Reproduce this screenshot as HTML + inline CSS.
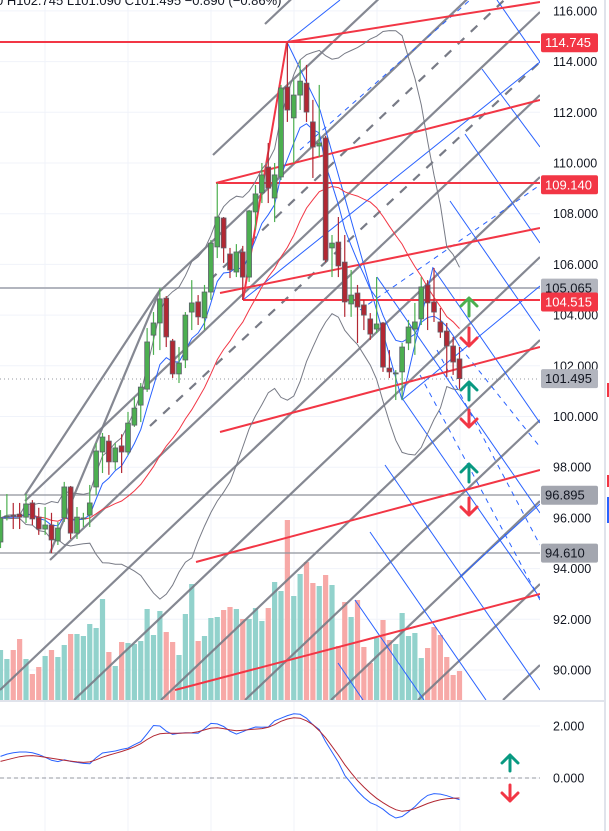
<!DOCTYPE html>
<html><head><meta charset="utf-8"><style>
html,body{margin:0;padding:0;background:#fff;}
svg{display:block;font-family:"Liberation Sans",sans-serif;}
</style></head><body>
<svg id="chart" width="609" height="831" viewBox="0 0 609 831" xmlns="http://www.w3.org/2000/svg">
<defs><clipPath id="plotClip"><rect x="0" y="0" width="540" height="700"/></clipPath>
<clipPath id="macdClip"><rect x="0" y="702" width="540" height="129"/></clipPath></defs>
<rect width="609" height="831" fill="#ffffff"/>
<g id="grid" stroke="#f0f3fa" stroke-width="1"></g>
<g id="volumes" clip-path="url(#plotClip)"></g>
<g id="drawings" clip-path="url(#plotClip)" fill="none">
  <line x1="0" y1="288" x2="540" y2="288" stroke="#b2b5be" stroke-width="2"/>
  <line x1="0" y1="495" x2="540" y2="495" stroke="#8f929b" stroke-width="1.3"/>
  <line x1="0" y1="553" x2="540" y2="553" stroke="#8f929b" stroke-width="1.3"/>
  <g stroke="#787b86" stroke-width="2.2" stroke-opacity="0.9">
    <line x1="160" y1="291" x2="540" y2="-70"/>
    <line x1="25" y1="501" x2="540" y2="12"/>
    <line x1="50" y1="560" x2="540" y2="95"/>
    <line x1="0" y1="690" x2="540" y2="177"/>
    <line x1="74" y1="700" x2="540" y2="257"/>
    <line x1="161" y1="700" x2="540" y2="340"/>
    <line x1="245" y1="700" x2="540" y2="420"/>
    <line x1="331" y1="700" x2="540" y2="501"/>
    <line x1="418" y1="700" x2="540" y2="584"/>
    <line x1="503" y1="700" x2="540" y2="665"/>
    <line x1="213" y1="155" x2="540" y2="-153"/>
    <line x1="265" y1="24" x2="540" y2="-237"/>
    <line x1="50" y1="553" x2="160" y2="290"/>
    <line x1="25" y1="495" x2="160" y2="290"/>
  </g>
  <g stroke="#787b86" stroke-width="2.2" stroke-dasharray="9,9">
    <line x1="150" y1="426" x2="540" y2="62"/>
    <line x1="210" y1="280" x2="540" y2="-34"/>
  </g>
  <g stroke="#2962ff" stroke-width="1">
    <line x1="497" y1="0" x2="540" y2="62"/>
    <line x1="482" y1="69" x2="540" y2="147"/>
    <line x1="465" y1="134" x2="540" y2="243"/>
    <line x1="450" y1="201" x2="540" y2="331"/>
    <line x1="433" y1="268" x2="540" y2="423"/>
    <line x1="377" y1="277" x2="540" y2="513"/>
    <line x1="402" y1="398" x2="540" y2="598"/>
    <line x1="385" y1="465" x2="540" y2="690"/>
    <line x1="370" y1="532" x2="486" y2="700"/>
    <line x1="355" y1="600" x2="424" y2="700"/>
    <line x1="338" y1="663" x2="363" y2="700"/>
    <polyline points="287,42 320,110 402,400 433,267"/>
    <line x1="402" y1="400" x2="540" y2="286"/>
    <line x1="243" y1="300" x2="540" y2="62"/>
    <line x1="460" y1="577" x2="540" y2="504"/>
    <line x1="287" y1="42" x2="340" y2="0"/>
  </g>
  <g stroke="#2962ff" stroke-width="1" stroke-dasharray="5,5">
    <line x1="300" y1="150" x2="470" y2="0"/>
    <line x1="360" y1="310" x2="540" y2="185"/>
    <line x1="460" y1="347" x2="540" y2="447"/>
    <line x1="437" y1="350" x2="540" y2="545"/>
    <line x1="420" y1="375" x2="540" y2="600"/>
  </g>
  <g stroke="#f23645" stroke-width="2">
    <line x1="287" y1="42" x2="540" y2="2"/>
    <line x1="216" y1="183" x2="540" y2="100"/>
    <line x1="220" y1="293" x2="540" y2="228"/>
    <line x1="220" y1="432" x2="540" y2="347"/>
    <line x1="196" y1="562" x2="540" y2="470"/>
    <line x1="175" y1="690" x2="540" y2="594"/>
    <line x1="243" y1="300" x2="287" y2="42"/>
    <line x1="0" y1="42" x2="540" y2="42"/>
    <line x1="216" y1="183" x2="540" y2="183"/>
    <line x1="243" y1="300" x2="540" y2="300"/>
  </g>
  <line x1="0" y1="379" x2="540" y2="379" stroke="#9598a1" stroke-width="1" stroke-dasharray="1,3"/>
</g>
<g id="indicators" clip-path="url(#plotClip)" fill="none"></g>
<g id="candles"></g>
<g id="signals" stroke-width="3" fill="none" stroke-linecap="round" stroke-linejoin="round">
  <g stroke="#4caf50"><path d="M469 316 V299 M461 306 L469 298 L477 306"/></g>
  <g stroke="#f23645"><path d="M469 328 V346 M461 338 L469 346 L477 338"/></g>
  <g stroke="#089981"><path d="M469 400 V383 M461 390 L469 382 L477 390"/></g>
  <g stroke="#f23645"><path d="M469 410 V427 M461 419 L469 427 L477 419"/></g>
  <g stroke="#089981"><path d="M469 482 V465 M461 472 L469 464 L477 472"/></g>
  <g stroke="#f23645"><path d="M469 498 V515 M461 507 L469 515 L477 507"/></g>
  <g stroke="#089981"><path d="M510 771 V755 M502 763 L510 755 L518 763"/></g>
  <g stroke="#f23645"><path d="M510 785 V801 M502 793 L510 801 L518 793"/></g>
</g>
<line x1="0" y1="701" x2="604" y2="701" stroke="#e0e3eb" stroke-width="2"/>
<g id="macd" clip-path="url(#macdClip)" fill="none"></g>
<g id="axis" font-size="12.5" fill="#131722"></g>
<line x1="605" y1="0" x2="605" y2="831" stroke="#e0e3eb" stroke-width="2"/>
<rect x="607" y="383" width="2" height="14" fill="#f23645"/>
<rect x="607" y="475" width="2" height="12" fill="#f23645"/>
<rect x="607" y="497" width="2" height="26" fill="#2962ff"/>
<text x="-4" y="5" font-size="13" fill="#131722">0 H102.745 L101.090 C101.495 −0.890 (−0.86%)</text>
</svg>
<script>
const opens=[95.05,96.05,96.1,96.15,96.03,96.59,96.03,95.56,95.72,95.09,96.0,97.22,95.4,95.98,96.11,97.22,98.6,99.03,98.21,98.84,98.6,99.66,100.45,101.08,103.21,103.69,104.67,102.98,101.68,102.23,104.12,104.52,103.89,104.91,106.69,107.83,106.41,105.7,106.49,105.5,108.07,108.82,109.84,108.62,109.45,113.0,111.78,112.68,113.15,111.62,110.67,110.99,106.65,106.88,106.09,104.44,104.87,104.4,103.85,103.45,103.69,101.91,101.68,101.76,102.9,103.45,103.85,105.19,104.52,103.73,103.37,102.78,102.27];
const highs=[96.31,96.94,96.59,96.59,96.94,96.7,96.4,96.43,96.2,95.84,97.42,97.26,96.43,96.2,97.3,98.95,99.35,99.27,98.95,99.3,100.18,100.77,101.32,103.49,104.12,105.07,104.75,103.06,102.74,104.12,105.38,104.79,105.19,106.96,109.21,107.87,106.65,106.8,106.73,108.15,109.13,110.0,110.79,110.0,113.08,114.745,113.27,114.06,113.87,112.49,113.08,111.07,107.16,107.87,107.16,105.78,105.19,104.6,104.08,105.5,103.73,102.62,101.83,102.9,103.81,104.48,105.5,105.38,105.86,104.28,103.69,103.14,102.745];
const lows=[94.81,95.9,95.56,95.56,95.8,95.72,95.33,95.33,94.61,94.93,95.84,95.17,95.17,95.64,95.64,96.9,97.77,97.7,97.9,97.77,98.48,99.59,99.78,100.97,102.43,102.62,102.74,101.52,101.32,101.91,103.41,103.61,103.41,104.6,106.25,106.06,105.46,105.5,104.6,105.31,107.36,108.42,108.42,107.67,109.33,111.62,110.0,112.09,111.62,109.41,110.24,106.09,105.5,105.5,103.93,103.93,102.9,103.41,103.02,103.29,101.76,101.52,100.65,100.65,102.62,102.43,103.61,103.41,103.73,103.1,101.56,101.64,101.09];
const closes=[96.0,96.07,96.08,96.03,96.55,95.96,95.56,95.72,95.13,95.6,97.22,95.4,96.03,96.0,96.59,98.64,99.19,98.21,98.76,98.6,99.74,100.33,101.16,102.94,103.69,104.64,103.14,101.68,102.11,104.0,104.48,103.93,104.91,106.84,107.87,106.65,105.78,106.49,105.5,108.11,108.78,109.53,109.01,109.53,112.96,112.09,112.68,113.23,112.01,110.63,110.79,106.17,106.84,105.94,104.52,104.79,104.32,104.0,103.25,103.65,101.95,101.76,101.72,102.74,103.53,103.73,105.11,104.48,104.12,103.33,102.78,102.15,101.495];
const volumes=[50,41,50,61,41,26,33,44,50,43,55,66,66,64,76,72,101,48,34,58,57,56,59,91,65,89,68,58,45,86,116,59,64,82,83,90,93,91,81,81,92,79,92,118,109,180,104,126,138,117,114,125,115,54,98,83,100,53,37,62,80,60,56,87,64,67,42,52,73,65,43,25,29];
const macdLine=[0.83,0.92,0.97,1.0,1.0,0.97,0.9,0.8,0.68,0.63,0.7,0.64,0.6,0.56,0.55,0.78,0.96,1.0,1.04,1.1,1.15,1.28,1.4,1.7,2.02,2.0,1.8,1.68,1.72,1.74,1.73,1.72,1.9,2.1,2.08,1.98,1.8,1.69,1.78,1.88,1.96,1.95,1.96,2.2,2.3,2.4,2.47,2.45,2.3,2.05,1.86,1.4,1.0,0.6,0.1,-0.2,-0.5,-0.75,-0.95,-1.05,-1.2,-1.4,-1.54,-1.48,-1.3,-1.1,-0.85,-0.67,-0.6,-0.62,-0.68,-0.76,-0.83];
const signalLine=[0.64,0.7,0.76,0.82,0.85,0.86,0.84,0.8,0.76,0.72,0.68,0.65,0.62,0.6,0.62,0.7,0.8,0.88,0.95,1.02,1.1,1.2,1.32,1.48,1.62,1.7,1.72,1.72,1.72,1.73,1.74,1.78,1.85,1.92,1.93,1.9,1.85,1.82,1.84,1.86,1.88,1.9,1.95,2.05,2.18,2.27,2.32,2.3,2.2,2.05,1.82,1.55,1.22,0.88,0.51,0.2,-0.1,-0.35,-0.58,-0.78,-0.95,-1.1,-1.22,-1.28,-1.25,-1.18,-1.08,-0.98,-0.9,-0.84,-0.8,-0.78,-0.77];
const priceTicks=[116,114,112,110,108,106,104,102,100,98,96,94,92,90];
const macdTicks=[2,0];
const gridX=[45,128,211,294,377,460];
const NS="http://www.w3.org/2000/svg";
function yP(p){return 670-(p-90)*25.35;}
function xI(i){return 0.5+i*6.375;}
function yV(v){return 700-v;}
function yM(v){return 778-v*26;}
function mk(tag,attrs,parent){const e=document.createElementNS(NS,tag);for(const k in attrs)e.setAttribute(k,attrs[k]);parent.appendChild(e);return e;}
const grid=document.getElementById('grid');
priceTicks.forEach(t=>{const l=mk('line',{x1:0,x2:540,y1:yP(t),y2:yP(t)},grid);

});
macdTicks.forEach(t=>{const l=mk('line',{x1:0,x2:540,y1:yM(t),y2:yM(t)},grid);

});
gridX.forEach(x=>{const l=mk('line',{x1:x,x2:x,y1:0,y2:831},grid);

});
const vg=document.getElementById('volumes');
volumes.forEach((v,i)=>{const up=closes[i]>=opens[i];
const r=mk('rect',{x:xI(i)-2.6,y:yV(v),width:5.2,height:v,fill:up?'#92d2cc':'#f7a9a7'},vg);

});
function sma(arr,n,i){const s=Math.max(0,i-n+1);let t=0;for(let k=s;k<=i;k++)t+=arr[k];return t/(i-s+1);}
function sd(arr,n,i){const m=sma(arr,n,i);const s=Math.max(0,i-n+1);let t=0;for(let k=s;k<=i;k++)t+=(arr[k]-m)**2;return Math.sqrt(t/(i-s+1));}
const ind=document.getElementById('indicators');
function poly(vals,color,w,name,par,yf){const pts=vals.map((v,i)=>xI(i).toFixed(1)+','+yf(v).toFixed(1)).join(' ');
const p=mk('polyline',{points:pts,stroke:color,'stroke-width':w,fill:'none'},par);

}
const basis=closes.map((c,i)=>sma(closes,20,i));
const upper=closes.map((c,i)=>basis[i]+2*sd(closes,20,i));
const lower=closes.map((c,i)=>basis[i]-2*sd(closes,20,i));
let e=closes[0];const ema=closes.map(c=>{e=e+(c-e)*2/8;return e;});
poly(upper,'#787b86',1,'bollinger-upper',ind,yP);
poly(lower,'#787b86',1,'bollinger-lower',ind,yP);
poly(basis,'#f23645',1,'sma-20',ind,yP);
poly(ema,'#2962ff',1,'ema-fast',ind,yP);
const cg=document.getElementById('candles');
closes.forEach((c,i)=>{const o=opens[i],up=c>=o,x=xI(i);
const col=up?'#4caf50':'#b22833';
const w=mk('line',{x1:x,x2:x,y1:yP(highs[i]),y2:yP(lows[i]),stroke:col,'stroke-width':1.2},cg);


const top=yP(Math.max(o,c)),bot=yP(Math.min(o,c));
const b=mk('rect',{x:x-2.4,y:top,width:4.8,height:Math.max(1,bot-top),fill:col,stroke:'#5d606b','stroke-width':0.8},cg);

});
const mg=document.getElementById('macd');
const z=mk('line',{x1:0,x2:540,y1:yM(0),y2:yM(0),stroke:'#9598a1','stroke-dasharray':'4,3'},mg);


poly(macdLine,'#2962ff',1,'macd-line',mg,yM);
poly(signalLine,'#b22833',1,'signal-line',mg,yM);
const ax=document.getElementById('axis');
priceTicks.forEach(t=>{const tx=mk('text',{x:553,y:yP(t)+4.5},ax);tx.textContent=t.toFixed(3);

});
macdTicks.forEach(t=>{const tx=mk('text',{x:553,y:yM(t)+4.5},ax);tx.textContent=t.toFixed(3);

});
const badges=[[114.745,'#f23645','#fff'],[109.14,'#f23645','#fff'],[105.065,'#b2b5be','#131722'],[104.515,'#f23645','#fff'],[101.495,'#b2b5be','#131722'],[96.895,'#a3a6af','#131722'],[94.61,'#a3a6af','#131722']];
badges.forEach(b=>{const y=yP(b[0]);
const r=mk('rect',{x:541,y:y-9.5,width:57,height:19,rx:2,fill:b[1]},ax);


const tx=mk('text',{x:545,y:y+4.5,fill:b[2],'font-size':13},ax);tx.textContent=b[0].toFixed(3);

});
</script>
</body></html>
